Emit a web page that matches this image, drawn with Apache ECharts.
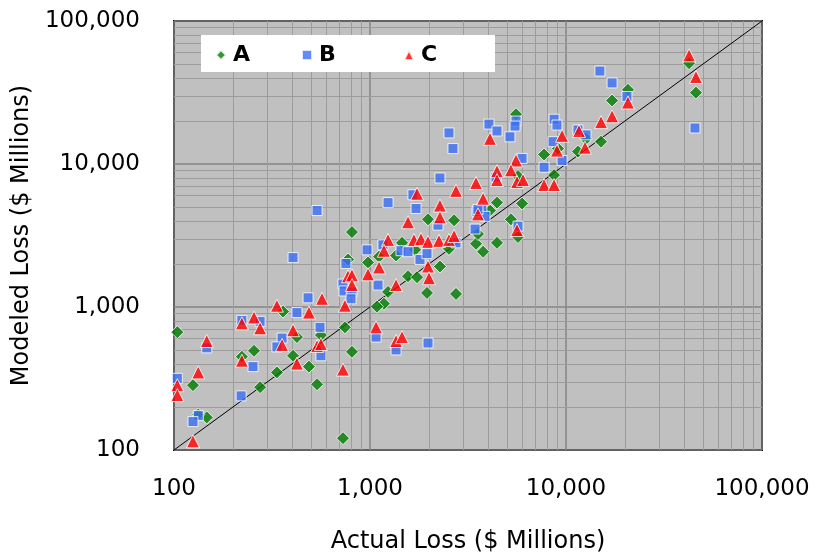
<!DOCTYPE html>
<html>
<head>
<meta charset="utf-8">
<script src="https://cdn.jsdelivr.net/npm/echarts@6/dist/echarts.min.js"></script>
<style>
html, body { margin: 0; padding: 0; background: #fff; }
#chart { width: 833px; height: 559px; }
</style>
</head>
<body>
<div id="chart"></div>
<script>
// [actual, modeled] in $ millions
var lossA = [
    [104, 667], [256, 494], [222, 449], [125, 284], [147, 169], [133, 177],
    [335, 349], [275, 275], [405, 456], [424, 616], [488, 383], [537, 288],
    [360, 929], [562, 636], [809, 3340], [1457, 2810], [977, 2050], [1112, 2250],
    [1358, 2290], [1698, 2510], [2529, 2550], [2275, 1920], [1563, 1640], [1738, 1616],
    [1954, 1254], [2747, 1235], [1236, 1275], [1178, 1054], [1086, 1005], [745, 721],
    [772, 2150], [809, 486], [728, 121], [1977, 4100], [2685, 4040], [5559, 22280],
    [7727, 11650], [11510, 12210], [8690, 8360], [4446, 5370], [5970, 5290], [4093, 4730],
    [5236, 4100], [5689, 8230], [9103, 12820], [20700, 33040], [17180, 27800], [15090, 14320],
    [12650, 15000], [42460, 50700], [46030, 31550], [3475, 2770], [3556, 3240], [3776, 2435],
    [4446, 2810], [5689, 3090]
];
var lossB = [
    [483, 1159], [424, 914], [222, 806], [275, 793], [147, 518], [556, 721],
    [356, 606], [335, 526], [253, 383], [562, 456], [104, 317], [220, 239],
    [133, 174], [125, 158], [966, 2510], [754, 2015], [728, 1446], [737, 1295],
    [809, 1275], [800, 1141], [1099, 1423], [1439, 2475], [1563, 2435], [1799, 2150],
    [1954, 2360], [1165, 2720], [1074, 616], [1358, 501], [1977, 560], [2529, 16490],
    [2650, 12820], [2275, 7980], [1236, 5370], [1718, 4885], [537, 4730], [405, 2215],
    [2223, 3733], [1656, 6095], [2747, 2810], [4046, 19010], [4446, 17020], [5559, 19950],
    [5495, 18420], [5176, 15490], [8690, 20570], [8995, 18720], [8590, 14320], [9550, 10590],
    [7727, 9490], [5970, 10940], [4395, 8090], [3724, 4885], [3516, 4660], [3864, 4305],
    [3436, 3506], [5689, 3674], [14890, 44670], [17180, 36900], [20460, 29600], [45500, 17860],
    [11510, 17300], [12650, 15990], [3556, 4810]
];
var lossC = [
    [335, 1021], [569, 1141], [488, 914], [256, 845], [222, 769], [275, 710],
    [147, 578], [405, 688], [356, 543], [537, 534], [562, 551], [222, 421],
    [133, 349], [424, 402], [104, 284], [104, 242], [125, 115], [1236, 2945],
    [1676, 2945], [1820, 2990], [1977, 2855], [2249, 2900], [2529, 2945], [2685, 3140],
    [1178, 2475], [1112, 1892], [977, 1693], [772, 1640], [809, 1667], [809, 1423],
    [1977, 1920], [2000, 1590], [1358, 1423], [745, 1021], [1074, 721], [1358, 578],
    [1457, 616], [728, 365], [1738, 6190], [2747, 6490], [2275, 5120], [2275, 4240],
    [1563, 3915], [4093, 15000], [9550, 15740], [11650, 17020], [8995, 12410], [5559, 10590],
    [4446, 8910], [5236, 9040], [4446, 7727], [5623, 7480], [6037, 7727], [7727, 7130],
    [8690, 7130], [3475, 7365], [3776, 5720], [3556, 4446], [5623, 3450], [42460, 57540],
    [46030, 40600], [20700, 26920], [17180, 21580], [15090, 19630], [12500, 13010]
];
var oneToOne = [[100, 100], [100000, 100000]];
var minorGrid = [200, 300, 400, 500, 600, 700, 800, 900,
    2000, 3000, 4000, 5000, 6000, 7000, 8000, 9000,
    20000, 30000, 40000, 50000, 60000, 70000, 80000, 90000];

var FONT = "DejaVu Sans";

function addCommas(v) {
    var s = String(Math.round(v));
    return s.replace(/\B(?=(\d{3})+(?!\d))/g, ",");
}

var gridLines = [];
for (var i = 0; i < minorGrid.length; i++) {
    gridLines.push({xAxis: minorGrid[i]});
    gridLines.push({yAxis: minorGrid[i]});
}

function legendAt(name, left) {
    return {
        data: [name],
        left: left,
        top: 44,
        padding: 0,
        itemWidth: 10,
        itemHeight: 10,
        z: 20,
        selectedMode: false,
        textStyle: {fontFamily: FONT, fontSize: 22, fontWeight: "bold", color: "#000", padding: [0, 0, 0, 2]}
    };
}

function logAxis(name, gap, labelMargin) {
    return {
        type: "log",
        logBase: 10,
        min: 100,
        max: 100000,
        name: name,
        nameLocation: "middle",
        nameGap: gap,
        nameTextStyle: {fontFamily: FONT, fontSize: 24, color: "#000"},
        axisLine: {show: false},
        axisTick: {show: false},
        axisLabel: {
            fontFamily: FONT, fontSize: 23, color: "#000", margin: labelMargin,
            formatter: function (v) { return addCommas(v); }
        },
        splitLine: {show: true, lineStyle: {color: "#858585", width: 1.5}}
    };
}

var chart = echarts.init(document.getElementById("chart"));
var option = {
    animation: false,
    backgroundColor: "#fff",
    grid: {
        left: 174, top: 21, right: 71, bottom: 101,
        show: true,
        backgroundColor: "#c0c0c0",
        borderColor: "#000",
        borderWidth: 2
    },
    graphic: [{
        type: "rect",
        left: 201, top: 35, z: 15,
        shape: {width: 294, height: 37},
        style: {fill: "#fff"}
    }],
    legend: [legendAt("A", 215), legendAt("B", 301), legendAt("C", 403)],
    xAxis: logAxis("Actual Loss ($ Millions)", 80, 28),
    yAxis: logAxis("Modeled Loss ($ Millions)", 113, 34),
    series: [
        {
            name: "fit",
            type: "line",
            data: oneToOne,
            symbol: "none",
            z: 8,
            silent: true,
            lineStyle: {color: "#000", width: 1},
            markLine: {
                silent: true,
                symbol: ["none", "none"],
                label: {show: false},
                lineStyle: {color: "#9c9c9c", width: 1, type: "solid"},
                data: gridLines
            }
        },
        {
            name: "A", type: "scatter", data: lossA, z: 10,
            symbol: "diamond", symbolSize: 13,
            itemStyle: {color: "#007a00", borderColor: "#fff", borderWidth: 1}
        },
        {
            name: "B", type: "scatter", data: lossB, z: 10,
            symbol: "rect", symbolSize: 10,
            itemStyle: {color: "#3a6ef5", borderColor: "#fff", borderWidth: 1}
        },
        {
            name: "C", type: "scatter", data: lossC, z: 10,
            symbol: "triangle", symbolSize: 13,
            itemStyle: {color: "#ff0000", borderColor: "#fff", borderWidth: 1}
        }
    ]
};
chart.setOption(option);
</script>
</body>
</html>
